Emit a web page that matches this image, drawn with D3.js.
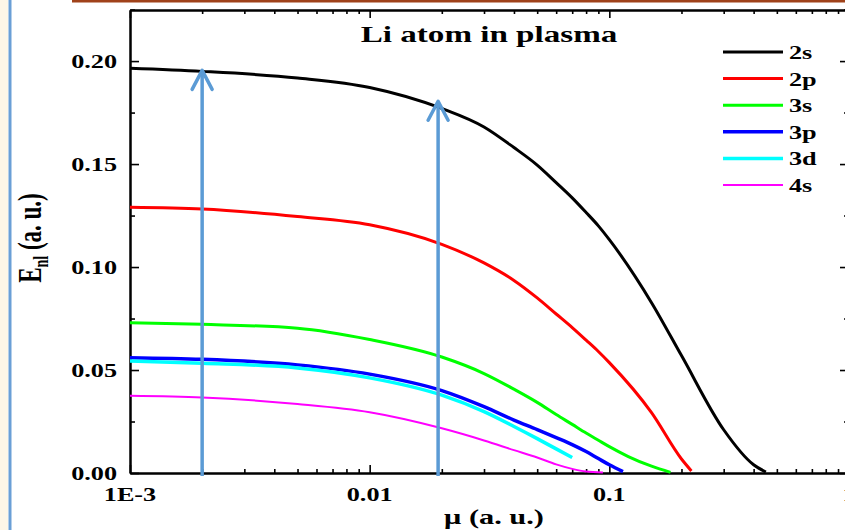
<!DOCTYPE html>
<html>
<head>
<meta charset="utf-8">
<script src="https://cdn.jsdelivr.net/npm/d3@7"></script>
<style>
    html, body { margin: 0; padding: 0; background: #fff; }
    svg { display: block; }
    text { font-family: "Liberation Serif", "Times New Roman", serif; font-weight: bold; fill: #000; }
</style>
</head>
<body>
<script>
// 데이터 (읽어낸 값)
var seriesNames = ['2s', '2p', '3s', '3p', '3d', '4s'];
var seriesColors = ['#000000', '#ff0000', '#00ff00', '#0000ff', '#00ffff', '#ff00ff'];
var seriesWidths = [3, 3, 3, 3.5, 3.5, 2];

var mu2s = [0.001, 0.002, 0.005, 0.01, 0.02, 0.03, 0.04, 0.05, 0.06, 0.07, 0.08, 0.09, 0.1, 0.15, 0.2, 0.3, 0.4, 0.45];
var e2s  = [0.1965, 0.1950, 0.1918, 0.1872, 0.1770, 0.1680, 0.1580, 0.1495, 0.1410, 0.1336, 0.1265, 0.1200, 0.1133, 0.0827, 0.0570, 0.0210, 0.0040, 0.0005];

var mu2p = [0.001, 0.002, 0.005, 0.01, 0.02, 0.03, 0.04, 0.05, 0.06, 0.07, 0.08, 0.09, 0.1, 0.15, 0.2, 0.22];
var e2p  = [0.1290, 0.1282, 0.1245, 0.1205, 0.1110, 0.1020, 0.0935, 0.0850, 0.0772, 0.0706, 0.0645, 0.0590, 0.0536, 0.0293, 0.0068, 0.0010];

var mu3s = [0.001, 0.002, 0.005, 0.01, 0.02, 0.03, 0.04, 0.05, 0.06, 0.07, 0.08, 0.09, 0.1, 0.12, 0.15, 0.18];
var e3s  = [0.0730, 0.0722, 0.0703, 0.0648, 0.0563, 0.0483, 0.0407, 0.0343, 0.0284, 0.0236, 0.0194, 0.0159, 0.0128, 0.0080, 0.0033, 0.0003];

var mu3p = [0.001, 0.002, 0.005, 0.01, 0.02, 0.03, 0.04, 0.05, 0.06, 0.07, 0.08, 0.09, 0.1, 0.114];
var e3p  = [0.0560, 0.0552, 0.0525, 0.0480, 0.0400, 0.0322, 0.0257, 0.0211, 0.0172, 0.0138, 0.0104, 0.0070, 0.0040, 0.0007];

var mu3d = [0.001, 0.002, 0.005, 0.01, 0.02, 0.03, 0.04, 0.05, 0.06, 0.07];
var e3d  = [0.0544, 0.0533, 0.0510, 0.0462, 0.0378, 0.0298, 0.0226, 0.0167, 0.0117, 0.0075];

var mu4s = [0.001, 0.002, 0.005, 0.01, 0.02, 0.03, 0.04, 0.05, 0.06, 0.07, 0.08, 0.094];
var e4s  = [0.0375, 0.0367, 0.0335, 0.0295, 0.0217, 0.0158, 0.0111, 0.0075, 0.0042, 0.0020, 0.0007, 0.0002];

// 화살표 위치 (mu) 와 끝 값
var arrowMu  = [0.002, 0.0193];
var arrowTop = [0.1955, 0.1805];

// 눈금
var xMajorTicks = [0.001, 0.01, 0.1, 1];
var xTickLabels = ['1E-3', '0.01', '0.1', '1'];
var yMajorTicks = [0, 0.05, 0.1, 0.15, 0.2];
var yTickLabels = ['0.00', '0.05', '0.10', '0.15', '0.20'];
var yMinorTicks = [0.025, 0.075, 0.125, 0.175, 0.225];

window.onload = function(){

    var svg = d3.select(document.body).append('svg')
        .attr('width', 845).attr('height', 530);

    var base = {left: 130, right: 849, top: 10, bottom: 473, sx: 1.38};
    var x = d3.scaleLog().domain([0.001, 1]).range([base.left, base.right]);
    var y = d3.scaleLinear().domain([0, 0.2248]).range([base.bottom, base.top]);

    drawFrame();
    drawAxes();
    drawCurves();
    drawArrows();
    drawLegend();
    drawTexts();

    /***********************************************/
    // 늘어난 글자 (원본 그림이 가로로 늘어나 있음)
    function stretchText(g, str, px, py, size, anchor){
        return g.append('text')
            .attr('transform', 'translate(' + px + ',' + py + ') scale(' + base.sx + ',1)')
            .attr('text-anchor', anchor)
            .style('font-size', size + 'px')
            .text(str);
    }

    function drawFrame(){
        svg.append('rect').attr('x', 0).attr('y', 0).attr('width', 8).attr('height', 530).style('fill', '#fdf6e7');
        svg.append('rect').attr('x', 8.5).attr('y', 0).attr('width', 3).attr('height', 530).style('fill', '#6a9fd6');
        svg.append('rect').attr('x', 72).attr('y', 0).attr('width', 773).attr('height', 2.5).style('fill', '#a0421a');
    }

    function drawAxes(){
        var minors = [];
        [0.001, 0.01, 0.1].forEach(function(d){
            for (var k = 2; k <= 9; k++) minors.push(d * k);
        });

        function style(g){
            g.selectAll('path').style('stroke', '#000').style('stroke-width', 2);
            g.selectAll('line').style('stroke', '#000').style('stroke-width', 1.6);
            g.selectAll('text').remove();
        }

        // 아래 / 위 축
        svg.append('g').attr('transform', 'translate(0,' + base.bottom + ')')
            .call(d3.axisBottom(x).tickValues(xMajorTicks).tickSizeInner(-8).tickSizeOuter(0)).call(style);
        svg.append('g').attr('transform', 'translate(0,' + base.bottom + ')')
            .call(d3.axisBottom(x).tickValues(minors).tickSizeInner(-4).tickSizeOuter(0)).call(style);
        svg.append('g').attr('transform', 'translate(0,' + base.top + ')')
            .call(d3.axisTop(x).tickValues(xMajorTicks).tickSizeInner(-8).tickSizeOuter(0)).call(style);
        svg.append('g').attr('transform', 'translate(0,' + base.top + ')')
            .call(d3.axisTop(x).tickValues(minors).tickSizeInner(-4).tickSizeOuter(0)).call(style);

        // 왼쪽 / 오른쪽 축
        svg.append('g').attr('transform', 'translate(' + base.left + ',0)')
            .call(d3.axisLeft(y).tickValues(yMajorTicks).tickSizeInner(-9).tickSizeOuter(0)).call(style);
        svg.append('g').attr('transform', 'translate(' + base.left + ',0)')
            .call(d3.axisLeft(y).tickValues(yMinorTicks).tickSizeInner(-5).tickSizeOuter(0)).call(style);
        svg.append('g').attr('transform', 'translate(' + base.right + ',0)')
            .call(d3.axisRight(y).tickValues(yMajorTicks).tickSizeInner(-9).tickSizeOuter(0)).call(style);
        svg.append('g').attr('transform', 'translate(' + base.right + ',0)')
            .call(d3.axisRight(y).tickValues(yMinorTicks).tickSizeInner(-5).tickSizeOuter(0)).call(style);

        // 눈금 글자
        var lab = svg.append('g');
        xMajorTicks.forEach(function(d, i){
            stretchText(lab, xTickLabels[i], x(d), 501, 19, 'middle');
        });
        yMajorTicks.forEach(function(d, i){
            stretchText(lab, yTickLabels[i], 117, y(d) + 6.5, 19, 'end');
        });
    }

    function drawCurves(){
        var mus = [mu2s, mu2p, mu3s, mu3p, mu3d, mu4s];
        var es = [e2s, e2p, e3s, e3p, e3d, e4s];
        var line = d3.line()
            .x(function(d){ return x(d[0]); })
            .y(function(d){ return y(d[1]); })
            .curve(d3.curveMonotoneX);

        var g = svg.append('g');
        seriesNames.forEach(function(name, i){
            var pts = mus[i].map(function(m, j){ return [m, es[i][j]]; });
            g.append('path')
                .attr('d', line(pts))
                .style('fill', 'none')
                .style('stroke', seriesColors[i])
                .style('stroke-width', seriesWidths[i])
                .style('stroke-linejoin', 'round');
        });
    }

    function drawArrows(){
        var g = svg.append('g');
        arrowMu.forEach(function(m, i){
            var ax = x(m), top = y(arrowTop[i]);
            g.append('line')
                .attr('x1', ax).attr('x2', ax)
                .attr('y1', base.bottom + 3).attr('y2', top + 1)
                .style('stroke', '#5b9bd5').style('stroke-width', 3.5);
            g.append('path')
                .attr('d', 'M' + (ax - 10) + ',' + (top + 19) + 'L' + ax + ',' + top + 'L' + (ax + 10) + ',' + (top + 19))
                .style('fill', 'none').style('stroke', '#5b9bd5').style('stroke-width', 3.5)
                .style('stroke-linecap', 'round').style('stroke-linejoin', 'round');
        });
    }

    function drawLegend(){
        var g = svg.append('g');
        seriesNames.forEach(function(name, i){
            var ly = 52 + i * 26.6;
            g.append('line')
                .attr('x1', 723).attr('x2', 783).attr('y1', ly).attr('y2', ly)
                .style('stroke', seriesColors[i]).style('stroke-width', seriesWidths[i]);
            stretchText(g, name, 789, ly + 7, 19, 'start');
        });
    }

    function drawTexts(){
        stretchText(svg, 'Li atom in plasma', 489, 42, 24, 'middle');
        stretchText(svg, 'μ (a. u.)', 494, 524, 22, 'middle');

        var t = svg.append('text')
            .attr('transform', 'translate(41,238) scale(1.45,1) rotate(-90)')
            .attr('text-anchor', 'middle')
            .style('font-size', '23px');
        t.append('tspan').text('E');
        t.append('tspan').attr('dy', 5).style('font-size', '14px').text('nl');
        t.append('tspan').attr('dy', -5).text(' (a. u.)');
    }
}
</script>
</body>
</html>
